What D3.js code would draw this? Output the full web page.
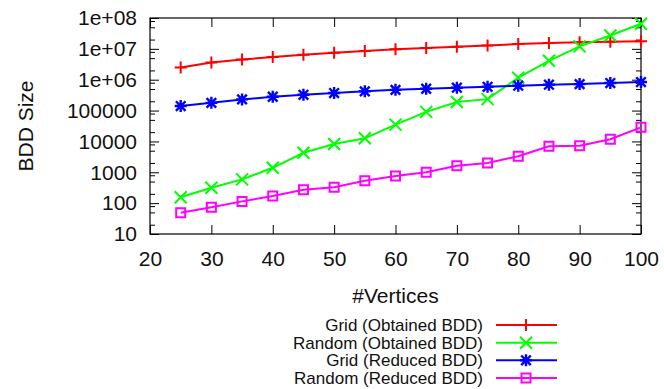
<!DOCTYPE html>
<html>
<head>
<meta charset="utf-8">
<script src="https://cdn.jsdelivr.net/npm/d3@7"></script>
<style>
  html, body { margin: 0; padding: 0; background: #fff; }
  svg { display: block; font-family: "Liberation Sans", Arial, sans-serif; }
</style>
</head>
<body>
<svg id="chart" width="664" height="389"></svg>
<script>
'use strict';

// Data
const vertices = [25, 30, 35, 40, 45, 50, 55, 60, 65, 70, 75, 80, 85, 90, 95, 100];

const gridObtained   = [2.5e6, 3.6e6, 4.5e6, 5.4e6, 6.5e6, 7.5e6, 8.5e6, 9.7e6, 1.07e7, 1.17e7, 1.29e7, 1.43e7, 1.55e7, 1.63e7, 1.70e7, 1.78e7];
const randomObtained = [155, 316, 590, 1400, 4300, 8300, 12600, 35000, 91000, 1.9e5, 2.35e5, 1.16e6, 4.1e6, 1.2e7, 2.7e7, 6.5e7];
const gridReduced    = [1.4e5, 1.78e5, 2.3e5, 2.8e5, 3.25e5, 3.7e5, 4.2e5, 4.7e5, 5.1e5, 5.5e5, 5.9e5, 6.4e5, 6.9e5, 7.2e5, 7.8e5, 8.4e5];
const randomReduced  = [49, 73, 114, 171, 272, 330, 533, 756, 1000, 1630, 2000, 3300, 6970, 7250, 11800, 28600];

const seriesNames  = ['Grid (Obtained BDD)', 'Random (Obtained BDD)', 'Grid (Reduced BDD)', 'Random (Reduced BDD)'];
const seriesValues = [gridObtained, randomObtained, gridReduced, randomReduced];

const xTicks      = [20, 30, 40, 50, 60, 70, 80, 90, 100];
const yTicks      = [10, 100, 1000, 10000, 100000, 1e6, 1e7, 1e8];
const yTickLabels = ['10', '100', '1000', '10000', '100000', '1e+06', '1e+07', '1e+08'];
const yMinorSteps = [2, 5, 8];

// Look
const COLORS  = ['#ff0000', '#00ff00', '#0000ff', '#ff00ff'];
const MARKERS = ['plus', 'cross', 'star', 'square'];
const M = { left: 150, right: 641, top: 18, bottom: 234 };
const FONT = 21;
const INK = '#111';

const svg = d3.select('#chart');

const x = d3.scaleLinear().domain([20, 100]).range([M.left, M.right]);
const y = d3.scaleLog().domain([10, 1e8]).range([M.bottom, M.top]);

const yMinor = [];
for (const t of yTicks.slice(0, -1)) for (const s of yMinorSteps) yMinor.push(t * s);

function styleAxis(g) {
  g.attr('font-family', null);
  g.select('.domain').remove();
  g.selectAll('.tick line').attr('stroke', '#000').attr('stroke-width', 1);
  g.selectAll('.tick text').attr('fill', INK).attr('font-size', FONT);
}

// Axes (ticks point inward, mirrored on all sides)
svg.append('g')
  .attr('transform', `translate(0,${M.bottom})`)
  .call(d3.axisBottom(x).tickValues(xTicks).tickSizeInner(-9).tickSizeOuter(0).tickPadding(17))
  .call(styleAxis);

svg.append('g')
  .attr('transform', `translate(0,${M.top})`)
  .call(d3.axisTop(x).tickValues(xTicks).tickSizeInner(-9).tickSizeOuter(0).tickFormat(''))
  .call(styleAxis);

svg.append('g')
  .attr('transform', `translate(${M.left},0)`)
  .call(d3.axisLeft(y).tickValues(yTicks).tickSizeInner(-9).tickSizeOuter(0).tickPadding(13)
    .tickFormat((d, i) => yTickLabels[i]))
  .call(styleAxis);

svg.append('g')
  .attr('transform', `translate(${M.right},0)`)
  .call(d3.axisRight(y).tickValues(yTicks).tickSizeInner(-9).tickSizeOuter(0).tickFormat(''))
  .call(styleAxis);

// minor log ticks
svg.append('g')
  .attr('transform', `translate(${M.left},0)`)
  .call(d3.axisLeft(y).tickValues(yMinor).tickSizeInner(-5).tickSizeOuter(0).tickFormat(''))
  .call(styleAxis);
svg.append('g')
  .attr('transform', `translate(${M.right},0)`)
  .call(d3.axisRight(y).tickValues(yMinor).tickSizeInner(-5).tickSizeOuter(0).tickFormat(''))
  .call(styleAxis);

// Frame
svg.append('rect')
  .attr('x', M.left).attr('y', M.top)
  .attr('width', M.right - M.left).attr('height', M.bottom - M.top)
  .attr('fill', 'none').attr('stroke', '#000').attr('stroke-width', 1.2);

// Axis titles
svg.append('text')
  .attr('x', (M.left + M.right) / 2).attr('y', 303)
  .attr('text-anchor', 'middle').attr('font-size', FONT).attr('fill', INK)
  .text('#Vertices');

svg.append('text')
  .attr('transform', `translate(33,${(M.top + M.bottom) / 2}) rotate(-90)`)
  .attr('text-anchor', 'middle').attr('font-size', FONT).attr('fill', INK)
  .text('BDD Size');

// Marker drawing
function drawMarker(g, type, color, cx, cy) {
  const s = 6;
  const p = g.append('path')
    .attr('fill', 'none').attr('stroke', color).attr('stroke-width', 2)
    .attr('transform', `translate(${cx},${cy})`);
  if (type === 'plus') {
    p.attr('d', `M${-s},0H${s}M0,${-s}V${s}`);
  } else if (type === 'cross') {
    p.attr('d', `M${-s},${-s}L${s},${s}M${-s},${s}L${s},${-s}`);
  } else if (type === 'star') {
    const d = s * 0.8;
    p.attr('d', `M${-s},0H${s}M0,${-s}V${s}M${-d},${-d}L${d},${d}M${-d},${d}L${d},${-d}`)
      .attr('stroke-width', 2.4);
  } else {
    const h = 4.5;
    p.attr('d', `M${-h},${-h}H${h}V${h}H${-h}Z`);
  }
}

const line = d3.line()
  .x(d => x(d[0]))
  .y(d => y(d[1]));

const plot = svg.append('g');
seriesValues.forEach((vals, i) => {
  const pts = vertices.map((v, j) => [v, vals[j]]);
  const g = plot.append('g');
  g.append('path')
    .datum(pts)
    .attr('d', line)
    .attr('fill', 'none')
    .attr('stroke', COLORS[i])
    .attr('stroke-width', 2);
  pts.forEach(p => drawMarker(g, MARKERS[i], COLORS[i], x(p[0]), y(p[1])));
});

// Legend
const legend = svg.append('g');
const legendRows = [325, 342.7, 360.3, 378];
seriesNames.forEach((name, i) => {
  const ly = legendRows[i];
  legend.append('text')
    .attr('x', 483).attr('y', ly).attr('dy', '0.35em')
    .attr('text-anchor', 'end').attr('font-size', 17).attr('fill', INK)
    .text(name);
  legend.append('line')
    .attr('x1', 496).attr('x2', 557).attr('y1', ly).attr('y2', ly)
    .attr('stroke', COLORS[i]).attr('stroke-width', 2);
  drawMarker(legend, MARKERS[i], COLORS[i], 526, ly);
});
</script>
</body>
</html>
